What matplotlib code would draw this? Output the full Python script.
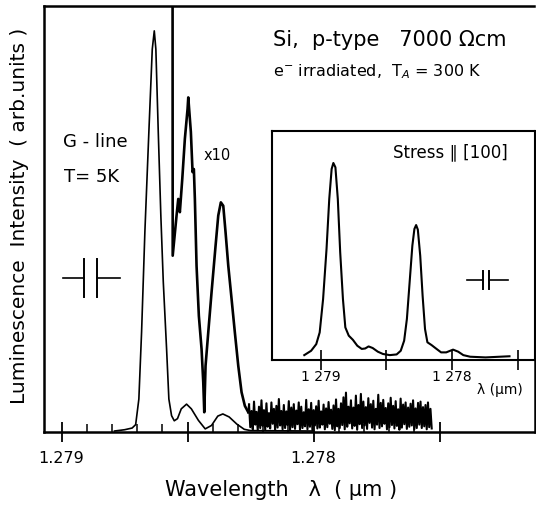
import numpy as np
import matplotlib
matplotlib.use('Agg')
import matplotlib.pyplot as plt
from matplotlib.ticker import FixedLocator

# G-line luminescence, Si p-type, main trace (x1)
lam_main = [1.2787900, 1.2787500, 1.2787200, 1.2787060, 1.2786933, 1.2786825, 1.2786694,
            1.2786536, 1.2786401, 1.2786321, 1.2786258, 1.2786163, 1.2786060, 1.2785964,
            1.2785833, 1.2785742, 1.2785635, 1.2785528, 1.2785400, 1.2785250, 1.2785040,
            1.2784850, 1.2784570, 1.2784300, 1.2784050, 1.2783800, 1.2783600, 1.2783350,
            1.2783040, 1.2782750, 1.2782500, 1.2780000]
int_main = [0.3, 0.6, 1.0, 1.8, 7.8, 23.5, 47.0,
            70.4, 89.8, 94.1, 89.8, 70.4, 50.7, 35.3,
            19.6, 7.8, 3.9, 2.7, 3.2, 5.5, 6.6,
            5.5, 2.8, 0.8, 1.6, 3.8, 4.3, 3.6,
            1.9, 0.7, 0.4, 0.3]

# x10 trace (starts off scale)
lam_x10 = [1.2785595, 1.2785590, 1.2785437, 1.2785369, 1.2785306, 1.2785210, 1.2785107,
           1.2785000, 1.2784972, 1.2784869, 1.2784802, 1.2784750, 1.2784710, 1.2784643,
           1.2784552, 1.2784444, 1.2784377, 1.2784337, 1.2784286, 1.2784179, 1.2784048,
           1.2783889, 1.2783782, 1.2783679, 1.2783583, 1.2783492, 1.2783385, 1.2783254,
           1.2783123, 1.2782988, 1.2782857, 1.2782726, 1.2782591]
int_x10 = [104.0, 41.4, 50.8, 54.7, 51.6, 59.4, 68.8,
           75.8, 78.5, 70.4, 61.0, 61.7, 54.7, 39.0,
           27.3, 19.5, 11.7, 4.7, 15.6, 23.4, 32.8,
           43.7, 50.8, 53.9, 53.1, 46.9, 39.1, 31.3,
           23.4, 15.6, 9.4, 6.2, 4.7]

# noisy tail of the x10 trace (spike tops / troughs)
noise_start, noise_end = 1.2782560, 1.2775310
noise_hi = [6.5, 5.0, 7.2, 4.8, 6.0, 7.5, 5.2, 6.8, 4.5, 7.0, 5.5, 6.2, 7.8, 5.0, 6.4,
            4.9, 7.3, 5.8, 6.6, 5.1, 7.0, 6.0, 4.7, 7.6, 5.4, 6.9, 5.2, 6.1, 7.4, 4.9,
            6.5, 5.6, 7.1, 5.3, 6.3, 7.7, 5.5, 6.8, 8.2, 9.3, 6.0, 7.5, 5.8, 8.6, 6.4,
            9.0, 7.2, 5.9, 8.0, 6.6, 7.4, 5.5, 8.8, 6.9, 7.6, 5.7, 6.8, 8.1, 6.2, 7.3,
            5.4, 7.9, 6.5, 7.0, 5.8, 6.7, 7.5, 5.6, 6.9, 7.2, 5.9, 6.4, 7.0, 5.5]
noise_lo = [1.2, 0.7, 1.8, 0.5, 1.0, 1.5, 0.6, 1.3, 0.9, 2.0, 0.5, 1.1, 1.6, 0.7, 1.0,
            1.7, 0.5, 1.2, 0.8, 1.9, 0.6, 1.0, 1.4, 0.7, 1.3, 0.5, 1.6, 0.9, 1.1, 1.8,
            0.7, 1.2, 2.0, 0.8, 0.5, 1.4, 1.0, 1.7, 0.7, 1.3, 2.1, 0.9, 1.5, 0.6, 1.9,
            1.0, 1.6, 0.8, 2.2, 1.1, 0.7, 1.8, 1.0, 1.4, 2.0, 0.7, 1.2, 1.7, 0.9, 1.5,
            0.6, 1.1, 1.9, 0.8, 1.3, 1.6, 0.7, 1.0, 1.8, 1.0, 1.4, 0.7, 1.2, 0.9]

# inset: Stress || [100]
lam_ins = [1.2791250, 1.2790729, 1.2790339, 1.2790078, 1.2789818, 1.2789557, 1.2789349,
           1.2789167, 1.2789036, 1.2788880, 1.2788698, 1.2788516, 1.2788307, 1.2788125,
           1.2787865, 1.2787552, 1.2787214, 1.2786875, 1.2786615, 1.2786354, 1.2786042,
           1.2785651, 1.2785260, 1.2784740, 1.2784219, 1.2783906, 1.2783646, 1.2783437,
           1.2783229, 1.2783021, 1.2782865, 1.2782734, 1.2782604, 1.2782422, 1.2782240,
           1.2782057, 1.2781875, 1.2781562, 1.2781224, 1.2780833, 1.2780443, 1.2779922,
           1.2779531, 1.2779141, 1.2778620, 1.2777448, 1.2775625]
int_ins = [2.0, 3.9, 6.8, 11.9, 26.5, 48.3, 70.2,
           83.3, 85.9, 84.0, 70.2, 46.9, 26.5, 14.1,
           10.5, 8.7, 6.1, 4.7, 4.9, 5.8, 5.1,
           3.5, 2.5, 2.0, 2.3, 3.9, 8.3, 17.8,
           33.8, 49.8, 57.1, 58.8, 56.8, 45.4, 27.9,
           13.4, 7.6, 6.4, 4.9, 3.2, 3.2, 4.4,
           3.5, 2.0, 1.3, 1.0, 1.5]

# spectral slit width markers: arm start, gap left, gap right, arm end, level, half height
slit_main = [1.2789933, 1.2789100, 1.2788611, 1.2787687, 36.2, 4.4]
slit_ins = [1.2778880, 1.2777610, 1.2777180, 1.2775710, 34.9, 4.0]

W, H = 536, 506
fig = plt.figure(figsize=(W / 100, H / 100), dpi=100)
plt.rcParams['font.family'] = 'DejaVu Sans'


def fx(px):
    return px / W


def fy(py):
    return 1 - py / H


def draw_slit(ax, s):
    a0, g0, g1, a1, lev, hh = s
    ax.plot([a0, g0], [lev, lev], color='black', lw=1.2)
    ax.plot([g1, a1], [lev, lev], color='black', lw=1.2)
    ax.plot([g0, g0], [lev - hh, lev + hh], color='black', lw=1.4)
    ax.plot([g1, g1], [lev - hh, lev + hh], color='black', lw=1.4)


# main axes
ax = fig.add_axes([fx(43.8), fy(433.3), fx(534.5 - 43.8), (433.3 - 6.7) / H])
ax.plot(lam_main, int_main, color='black', lw=1.2)
ax.plot(lam_x10, int_x10, color='black', lw=1.9)

noise_x = np.linspace(noise_start, noise_end, 2 * len(noise_hi))
noise_y = np.ravel(np.column_stack([noise_hi, noise_lo]))
ax.plot([lam_x10[-1], noise_x[0]], [int_x10[-1], noise_y[0]], color='black', lw=1.5)
ax.plot(noise_x, noise_y, color='black', lw=1.5)
draw_slit(ax, slit_main)

ax.set_xlim(1.2790706, 1.2771230)
ax.set_ylim(0, 100)
ax.set_yticks([])
ax.xaxis.set_major_locator(FixedLocator([1.279, 1.2785, 1.278, 1.2775]))
ax.xaxis.set_minor_locator(FixedLocator([1.2789, 1.2788, 1.2787, 1.2786, 1.2784, 1.2783,
                                         1.2782, 1.2781, 1.2779, 1.2778, 1.2777, 1.2776]))
ax.set_xticklabels(['1.279', '', '1.278', ''])
ax.tick_params(axis='x', which='major', direction='inout', length=14, width=1.3,
               labelsize=11.5, pad=6)
ax.tick_params(axis='x', which='minor', direction='in', length=6, width=1.1)
for s in ['left', 'bottom', 'top', 'right']:
    ax.spines[s].set_linewidth(1.8)
ax.spines['right'].set_bounds(0, 58)

# inset
axi = fig.add_axes([fx(271.8), fy(360.7), fx(534.5 - 271.8), (360.7 - 131.7) / H])
axi.plot(lam_ins, int_ins, color='black', lw=1.5)
draw_slit(axi, slit_ins)
axi.set_xlim(1.2793724, 1.2773720)
axi.set_ylim(0, 100)
axi.set_yticks([])
axi.xaxis.set_major_locator(FixedLocator([1.279, 1.2785, 1.278, 1.2775]))
axi.set_xticklabels(['1 279', '', '1 278', ''])
axi.tick_params(axis='x', direction='inout', length=14, width=1.2, labelsize=10, pad=0)
for s in ['left', 'bottom', 'top', 'right']:
    axi.spines[s].set_linewidth(1.5)

# texts
fig.text(fx(273), fy(40), 'Si,  p-type   7000 Ωcm', fontsize=15, va='center', ha='left')
fig.text(fx(273), fy(72), 'e$^{-}$ irradiated,  T$_A$ = 300 K', fontsize=11.5,
         va='center', ha='left')
fig.text(fx(63), fy(142), 'G - line', fontsize=13, va='center', ha='left')
fig.text(fx(64), fy(177), 'T= 5K', fontsize=13, va='center', ha='left')
fig.text(fx(204), fy(155), 'x10', fontsize=10.5, va='center', ha='left')
fig.text(fx(393), fy(152), 'Stress ∥ [100]', fontsize=12, va='center', ha='left')
fig.text(fx(523), fy(390), 'λ (µm)', fontsize=10, va='center', ha='right')
fig.text(fx(281), fy(490), 'Wavelength   λ  ( µm )', fontsize=15, va='center', ha='center')
fig.text(fx(20), fy(216), 'Luminescence  Intensity  ( arb.units )', fontsize=14.5,
         va='center', ha='center', rotation=90)

fig.savefig('out.png', dpi=100)
